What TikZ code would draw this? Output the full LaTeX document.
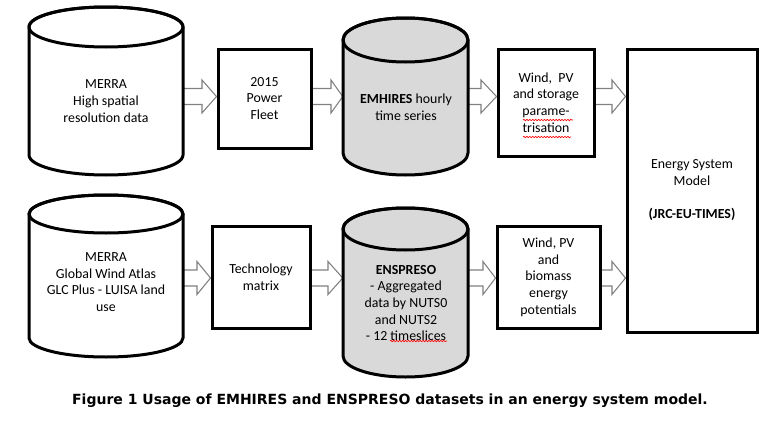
\documentclass[tikz,border=0pt]{standalone}
\usepackage{fontspec}
\setmainfont{Carlito}
\newfontfamily\capfont{DejaVu Sans}
\usetikzlibrary{decorations.pathmorphing,backgrounds}
\tikzset{
  cylline/.style={line width=2.25pt, line join=round},
  boxsty/.style={draw, line width=2.25pt, inner sep=0pt, align=center,
                 font=\fontsize{10.4}{12.5}\selectfont},
  txt/.style={align=center, inner sep=0pt, font=\fontsize{10.4}{12.5}\selectfont},
  blockarrow/.style={draw=black!50, fill=white, line width=0.8pt, line join=miter},
  squig/.style={draw=red, line width=0.5pt, decorate,
                decoration={snake, amplitude=0.5pt, segment length=2.2pt}},
  capt/.style={inner sep=0pt, font=\capfont\bfseries\fontsize{10.5}{12}\selectfont}
}
\newcommand\cyl[7]{%
  \pgfmathsetmacro\cylcx{(#2+#3)/2}%
  \pgfmathsetmacro\cylrx{(#3-#2)/2}%
  \filldraw[cylline, fill=#7] (#2,{#4+#6}) -- (#2,{#5-#6})
     arc[start angle=180, end angle=0, x radius=\cylrx, y radius=#6]
     -- (#3,{#4+#6})
     arc[start angle=0, end angle=-180, x radius=\cylrx, y radius=#6] -- cycle;
  \draw[cylline] (\cylcx,{#4+#6}) ellipse[x radius=\cylrx, y radius=#6];
  \node[inner sep=0pt, minimum width={(#3-#2)*0.75pt}, minimum height={(#5-#4)*0.75pt}]
     (#1) at (\cylcx,{(#4+#5)/2}) {};
}
\newcommand\barrow[4]{%
  \coordinate (ba1) at (0,{#3-8});
  \coordinate (ba2) at (0,{#3-16.5});
  \coordinate (ba3) at (0,#3);
  \coordinate (ba4) at (0,{#3+16.5});
  \coordinate (ba5) at (0,{#3+8});
  \begin{pgfonlayer}{background}
  \draw[blockarrow] (#1.east |- ba1) -- (#4,{#3-8}) -- (#4,{#3-16.5})
     -- (#2.west |- ba3) -- (#4,{#3+16.5}) -- (#4,{#3+8}) -- (#1.east |- ba5);
  \end{pgfonlayer}
}
\begin{document}
\begin{tikzpicture}[x=0.75pt, y=-0.75pt]
\useasboundingbox (0,0) rectangle (772,421);

% top row
\cyl{merraA}{29}{183}{7}{175}{20}{white}
\node[txt] (merraAt) at (106,101) {MERRA\\High spatial\\resolution data};
\node[boxsty, minimum width=69.75pt, minimum height=74.25pt] (fleet) at (264.5,98.5) {2015\\Power\\Fleet};
\cyl{emh}{343}{468}{18}{175}{22}{black!15}
\node[txt] (emht) at (406,107) {\textbf{EMHIRES} hourly\\time series};
\node[boxsty, minimum width=72pt, minimum height=80.25pt] (wpvs) at (546,102.5) {Wind,~ PV\\and storage\\parame-\\trisation};
\node[boxsty, minimum width=97.5pt, minimum height=212.25pt] (esm) at (692,190.5) {Energy System\\Model\\~\\\textbf{(JRC-EU-TIMES)}};

% bottom row
\cyl{merraB}{29}{183}{195}{357}{19}{white}
\node[txt] (merraBt) at (106,282) {MERRA\\Global Wind Atlas\\GLC Plus - LUISA land\\use};
\node[boxsty, minimum width=73.5pt, minimum height=76.5pt] (tech) at (261,277) {Technology\\matrix};
\cyl{ens}{343}{468}{208}{377}{21}{black!15}
\node[txt] (enst) at (406,303) {\textbf{ENSPRESO}\\- Aggregated\\data by NUTS0\\and NUTS2\\ - 12 timeslices};
\node[boxsty, minimum width=77.25pt, minimum height=76.5pt] (wpvb) at (548.5,277) {Wind, PV\\and\\biomass\\energy\\potentials};

% block arrows
\barrow{merraA}{fleet}{96.5}{202}
\barrow{fleet}{emh}{96.5}{331}
\barrow{emh}{wpvs}{96.5}{481}
\barrow{wpvs}{esm}{96.5}{612}
\barrow{merraB}{tech}{278}{197}
\barrow{tech}{ens}{278}{328}
\barrow{ens}{wpvb}{278}{483}
\barrow{wpvb}{esm}{278}{612}

% spell-check squiggles
\coordinate (sq1a) at (523,120); \coordinate (sq1b) at (573,120);
\coordinate (sq2a) at (523,137); \coordinate (sq2b) at (571,137);
\coordinate (sq3a) at (390,341); \coordinate (sq3b) at (447,341);
\draw[squig] (sq1a) -- (sq1b);
\draw[squig] (sq2a) -- (sq2b);
\draw[squig] (sq3a) -- (sq3b);

% caption
\node[capt] (cap) at (390,401) {Figure 1 Usage of EMHIRES and ENSPRESO datasets in an energy system model.};
\end{tikzpicture}
\end{document}
